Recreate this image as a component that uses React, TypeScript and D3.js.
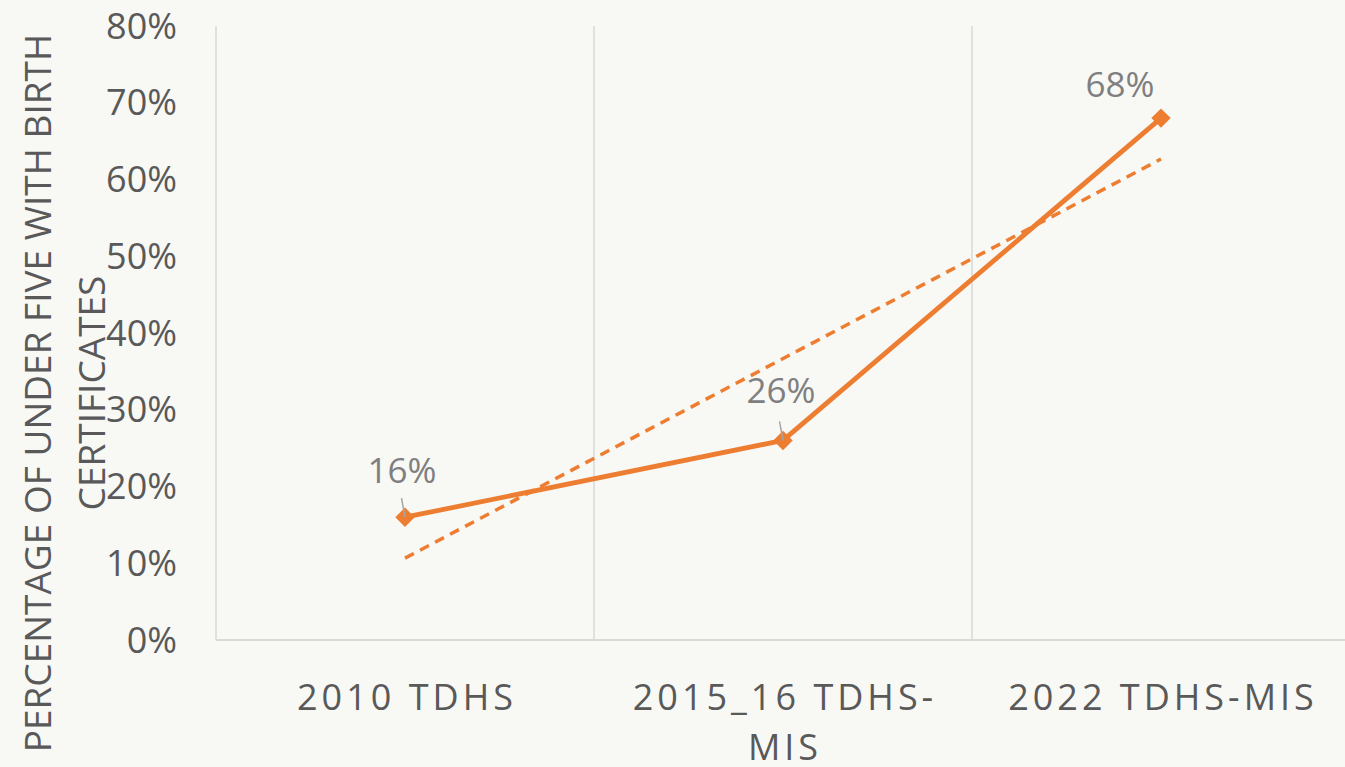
import React from "react";
import * as d3 from "d3";

const categories: string[][] = [["2010 TDHS"], ["2015_16 TDHS-", "MIS"], ["2022 TDHS-MIS"]];
const values: number[] = [16, 26, 68];
const yTicks: number[] = [0, 10, 20, 30, 40, 50, 60, 70, 80];
const titleLines: string[] = ["PERCENTAGE OF UNDER FIVE WITH BIRTH", "CERTIFICATES"];
const labelOffsets = [
  { dx: -3, dy: -34, leader: true },
  { dx: -2, dy: -37, leader: true },
  { dx: -41, dy: -21, leader: false },
];

const W = 1345;
const H = 767;
const ORANGE = "#ed7d31";
const FONT = "'Open Sans', sans-serif";

export default function App() {
  const x = d3.scaleBand<number>().domain(values.map((_, i) => i)).range([216, 1350]);
  const y = d3.scaleLinear().domain([0, 80]).range([640, 26]);
  const cx = (i: number) => (x(i) as number) + x.bandwidth() / 2;

  const line = d3
    .line<number>()
    .x((_, i) => cx(i))
    .y((d) => y(d));

  // linear trendline (least squares) of the series
  const n = values.length;
  const xs = values.map((_, i) => i + 1);
  const mx = d3.mean(xs) as number;
  const my = d3.mean(values) as number;
  const slope =
    d3.sum(xs.map((xi, i) => (xi - mx) * (values[i] - my))) / d3.sum(xs.map((xi) => (xi - mx) ** 2));
  const intercept = my - slope * mx;
  const trend = [intercept + slope * 1, intercept + slope * n];

  const diamond = d3.symbol().type(d3.symbolDiamond2 ?? d3.symbolDiamond).size(240)();

  return (
    <svg
      width={W}
      height={H}
      style={{ position: "absolute", left: 0, top: 0, background: "#f8f8f5" }}
      fontFamily={FONT}
    >
      <rect x={0} y={0} width={W} height={H} fill="#f8f8f5" />
      {/* vertical gridlines */}
      {x.domain().map((i) => (
        <line key={i} x1={x(i)} x2={x(i)} y1={y(80)} y2={y(0)} stroke="#d9d9d9" strokeWidth={1.5} />
      ))}
      <line x1={x.range()[1]} x2={x.range()[1]} y1={y(80)} y2={y(0)} stroke="#d9d9d9" strokeWidth={1.5} />
      {/* x axis line */}
      <line x1={216} x2={W} y1={y(0)} y2={y(0)} stroke="#d9d9d9" strokeWidth={2} />

      {/* y tick labels */}
      {yTicks.map((t) => (
        <text key={t} x={177} y={y(t)} dy="0.35em" textAnchor="end" fontSize={36} fill="#595959">
          {t}%
        </text>
      ))}

      {/* y axis title */}
      {titleLines.map((l, k) => (
        <text
          key={k}
          transform={`translate(${38 + k * 54},393) rotate(-90)`}
          textAnchor="middle"
          dy="0.35em"
          fontSize={37}
          fill="#595959"
        >
          {l}
        </text>
      ))}

      {/* category labels */}
      {categories.map((lines, i) =>
        lines.map((l, k) => (
          <text
            key={`${i}-${k}`}
            x={cx(i) + 2}
            y={710 + k * 50}
            textAnchor="middle"
            fontSize={36}
            letterSpacing={4}
            fill="#595959"
          >
            {l}
          </text>
        ))
      )}

      {/* trendline */}
      <line
        x1={cx(0)}
        x2={cx(n - 1)}
        y1={y(trend[0])}
        y2={y(trend[1])}
        stroke={ORANGE}
        strokeWidth={3.5}
        strokeDasharray="10 7"
      />

      {/* series */}
      <path d={line(values) as string} fill="none" stroke={ORANGE} strokeWidth={4.8} strokeLinejoin="round" />
      {values.map((v, i) => (
        <path key={i} d={diamond as string} transform={`translate(${cx(i)},${y(v)})`} fill={ORANGE} />
      ))}

      {/* data labels */}
      {values.map((v, i) => {
        const o = labelOffsets[i];
        const px = cx(i);
        const py = y(v);
        return (
          <g key={i}>
            {o.leader && (
              <line x1={px - 3.5} y1={py - 19} x2={px} y2={py} stroke="#a6a6a6" strokeWidth={1.5} />
            )}
            <text
              x={px + o.dx}
              y={py + o.dy}
              textAnchor="middle"
              fontSize={35}
              fill="#7f7f7f"
            >
              {v}%
            </text>
          </g>
        );
      })}
    </svg>
  );
}
